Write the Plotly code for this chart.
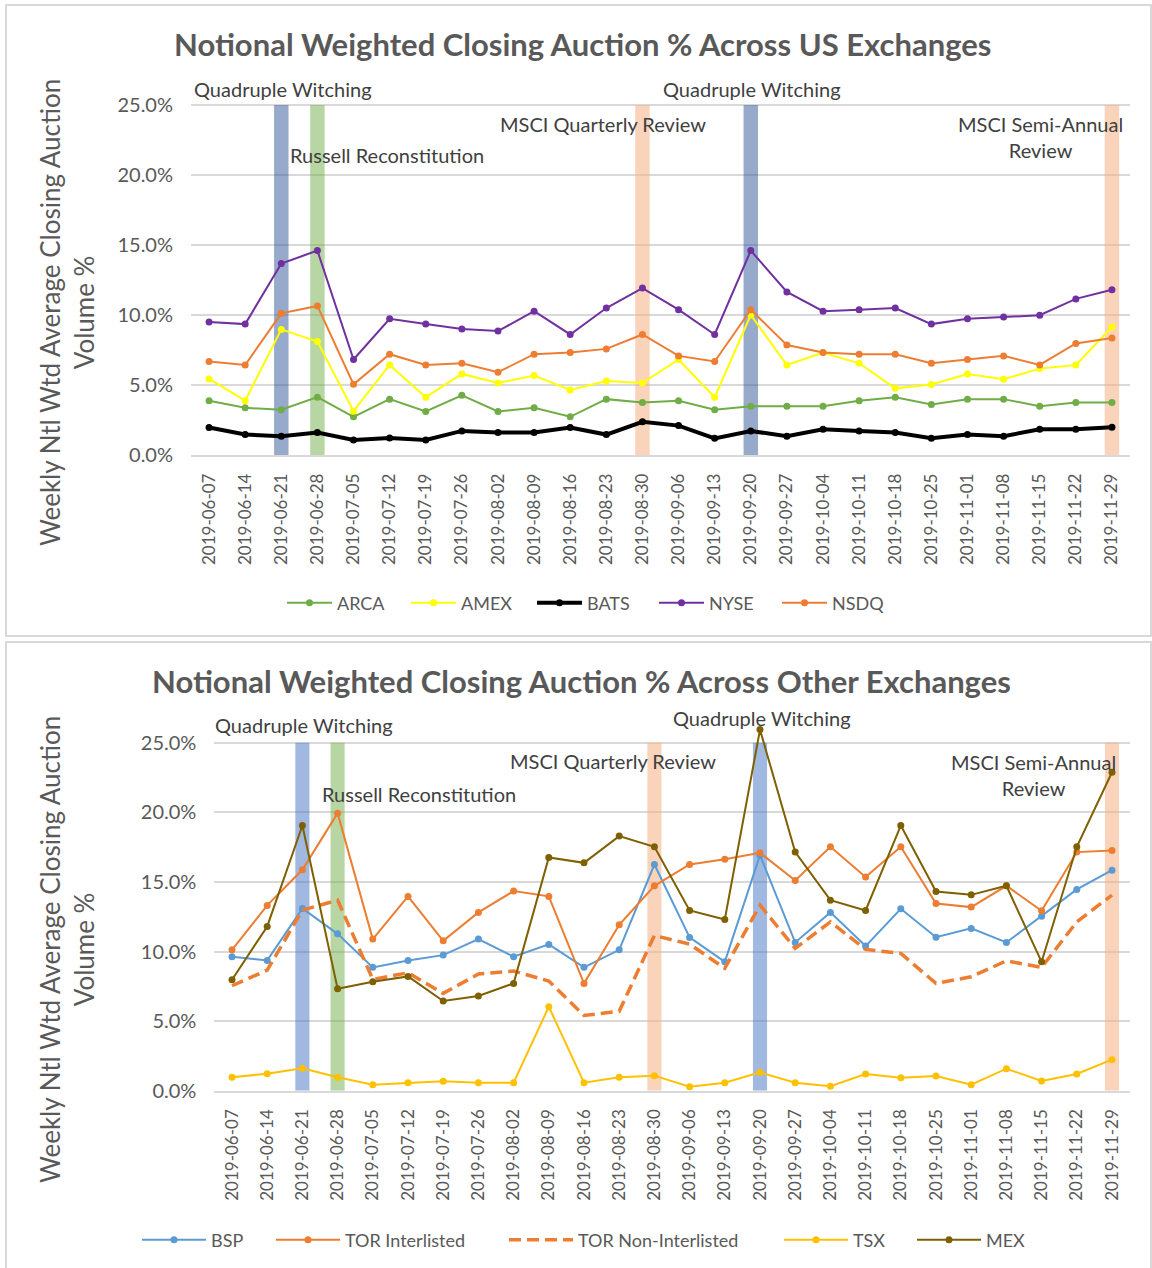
import plotly.graph_objects as go

dates = ["2019-06-07","2019-06-14","2019-06-21","2019-06-28","2019-07-05","2019-07-12","2019-07-19",
         "2019-07-26","2019-08-02","2019-08-09","2019-08-16","2019-08-23","2019-08-30","2019-09-06",
         "2019-09-13","2019-09-20","2019-09-27","2019-10-04","2019-10-11","2019-10-18","2019-10-25",
         "2019-11-01","2019-11-08","2019-11-15","2019-11-22","2019-11-29"]

# Top chart (US exchanges), values in %
arca = [3.88,3.37,3.23,4.13,2.73,3.99,3.11,4.26,3.11,3.37,2.73,3.99,3.75,3.88,3.23,3.49,3.49,3.49,3.88,4.13,3.61,3.99,3.99,3.49,3.75,3.75]
amex = [5.43,3.88,8.97,8.11,3.13,6.43,4.13,5.79,5.14,5.67,4.64,5.28,5.14,6.82,4.13,10.0,6.43,7.32,6.55,4.76,5.03,5.79,5.41,6.17,6.43,9.14]
bats = [1.96,1.46,1.34,1.60,1.08,1.22,1.08,1.72,1.60,1.60,1.96,1.46,2.37,2.10,1.19,1.72,1.34,1.84,1.72,1.60,1.19,1.46,1.34,1.84,1.84,1.98]
nyse = [9.50,9.35,13.68,14.60,6.82,9.73,9.35,9.00,8.85,10.27,8.61,10.50,11.92,10.38,8.61,14.60,11.65,10.27,10.38,10.50,9.35,9.73,9.86,9.98,11.15,11.80]
nsdq = [6.68,6.43,10.12,10.65,5.05,7.20,6.43,6.55,5.91,7.20,7.32,7.58,8.61,7.08,6.68,10.38,7.85,7.32,7.20,7.20,6.55,6.82,7.08,6.43,7.97,8.35]

# Bottom chart (other exchanges), values in %
bsp = [9.62,9.36,13.09,11.27,8.86,9.36,9.74,10.89,9.62,10.51,8.86,10.12,16.25,11.01,9.26,16.92,10.65,12.81,10.39,13.07,11.03,11.66,10.65,12.54,14.46,15.84]
tor_inter = [10.12,13.31,15.87,19.94,10.89,13.96,10.77,12.81,14.34,13.96,7.71,11.92,14.72,16.25,16.63,17.09,15.10,17.52,15.36,17.52,13.45,13.19,14.72,12.92,17.14,17.26]
tor_non = [7.54,8.66,12.97,13.69,8.00,8.47,6.99,8.38,8.59,7.88,5.41,5.70,11.15,10.53,8.79,13.33,10.22,12.13,10.15,9.86,7.71,8.18,9.33,8.86,12.13,14.05]
tsx = [0.96,1.22,1.61,0.96,0.43,0.57,0.67,0.57,0.57,6.03,0.57,0.96,1.08,0.29,0.57,1.32,0.57,0.32,1.20,0.93,1.06,0.43,1.58,0.70,1.20,2.23]
mex = [7.97,11.80,19.05,7.32,7.82,8.21,6.44,6.80,7.71,16.76,16.37,18.29,17.52,12.95,12.30,25.94,17.14,13.69,12.95,19.05,14.31,14.07,14.72,9.26,17.52,22.88]

# Event bands
band_dates = ["2019-06-21","2019-06-28","2019-08-30","2019-09-20","2019-11-29"]
band_height = [25, 25, 25, 25, 25]

ytick_vals = [0, 5, 10, 15, 20, 25]
ytick_text = [f"{v:.1f}%" for v in ytick_vals]

W, H = 1152, 1268
GRAY = "#595959"
FONT = "Lato"

def px(x):
    return x / W

def py(y):
    return 1 - y / H

fig = go.Figure()

top_band_colors = ["rgba(47,85,151,0.5)", "rgba(112,173,71,0.5)", "rgba(244,177,131,0.55)",
                   "rgba(47,85,151,0.5)", "rgba(244,177,131,0.55)"]
bot_band_colors = ["rgba(68,114,196,0.5)", "rgba(112,173,71,0.5)", "rgba(244,177,131,0.55)",
                   "rgba(68,114,196,0.5)", "rgba(244,177,131,0.55)"]

fig.add_trace(go.Bar(x=band_dates, y=band_height, width=0.4, marker=dict(color=top_band_colors, line_width=0),
                     showlegend=False, hoverinfo="skip", xaxis="x", yaxis="y"))
fig.add_trace(go.Bar(x=band_dates, y=band_height, width=0.4, marker=dict(color=bot_band_colors, line_width=0),
                     showlegend=False, hoverinfo="skip", xaxis="x2", yaxis="y2"))

legend_layouts = {}
leg_font = dict(size=18, color=GRAY, family=FONT)

def line(name, y, color, legend, leg_x, leg_y, itemwidth, width=2, ax=("x", "y"), dash=None, markers=True, msize=7):
    fig.add_trace(go.Scatter(
        x=dates, y=y, name=name, xaxis=ax[0], yaxis=ax[1], legend=legend,
        mode="lines+markers" if markers else "lines",
        line=dict(color=color, width=width, dash=dash),
        marker=dict(size=msize, color=color),
    ))
    legend_layouts[legend] = dict(orientation="h", x=px(leg_x), xanchor="left", y=py(leg_y), yanchor="middle",
                                  font=leg_font, itemwidth=itemwidth, bgcolor="rgba(0,0,0,0)",
                                  borderwidth=0)

LX = -6  # legend box offset relative to line start
line("ARCA", arca, "#70AD47", "legend", 288 + LX, 603, 45)
line("AMEX", amex, "#FFFF00", "legend2", 412 + LX, 603, 45)
line("BATS", bats, "#000000", "legend3", 538 + LX, 603, 45, width=4)
line("NYSE", nyse, "#7030A0", "legend4", 660 + LX, 603, 45)
line("NSDQ", nsdq, "#ED7D31", "legend5", 783 + LX, 603, 45)

ax2 = ("x2", "y2")
line("BSP", bsp, "#5B9BD5", "legend6", 143 + LX, 1240, 64, ax=ax2)
line("TOR Interlisted", tor_inter, "#ED7D31", "legend7", 277 + LX, 1240, 64, ax=ax2)
line("TOR Non-Interlisted", tor_non, "#ED7D31", "legend8", 510 + LX, 1240, 64, width=3.5, ax=ax2,
     dash="12px,6px", markers=False)
line("TSX", tsx, "#FFC000", "legend9", 785 + LX, 1240, 64, ax=ax2)
line("MEX", mex, "#7F6000", "legend10", 918 + LX, 1240, 64, ax=ax2)

# axes geometry (pixels)
top_left, top_right, top_zero, pxper_top = 191, 1130, 455, 14.0
bot_left, bot_right, bot_zero, pxper_bot = 214.4, 1129.6, 1090.7, 13.92
top_max, bot_max = 25.3, 26.5

xcommon = dict(type="category", categoryorder="array", categoryarray=dates, range=[-0.5, len(dates) - 0.5],
               tickangle=-90, tickfont=dict(size=17, color=GRAY, family=FONT),
               showgrid=False, showline=True, linecolor="#D9D9D9", linewidth=1.5, ticks="",
               ticklabelstandoff=10, fixedrange=True, automargin=False)
ycommon = dict(tickvals=ytick_vals, ticktext=ytick_text,
               tickfont=dict(size=20, color=GRAY, family=FONT), showgrid=True, gridcolor="#D9D9D9",
               gridwidth=1.5, zeroline=False, showline=False, ticks="", ticklabelstandoff=17, fixedrange=True,
               automargin=False)

fig.update_layout(
    width=W, height=H, margin=dict(l=0, r=0, t=0, b=0, autoexpand=False),
    paper_bgcolor="white", plot_bgcolor="white",
    font=dict(family=FONT, color=GRAY),
    barmode="overlay",
    xaxis=dict(domain=[px(top_left), px(top_right)], anchor="y", **xcommon),
    yaxis=dict(domain=[py(top_zero), py(top_zero - top_max * pxper_top)], range=[0, top_max], anchor="x", **ycommon),
    xaxis2=dict(domain=[px(bot_left), px(bot_right)], anchor="y2", **xcommon),
    yaxis2=dict(domain=[py(bot_zero), py(bot_zero - bot_max * pxper_bot)], range=[0, bot_max], anchor="x2", **ycommon),
    hovermode=False,
    **legend_layouts,
)

# panel borders
fig.add_shape(type="rect", xref="paper", yref="paper", x0=px(6), x1=px(1151), y0=py(636), y1=py(5),
              line=dict(color="#D9D9D9", width=2), layer="below")
fig.add_shape(type="rect", xref="paper", yref="paper", x0=px(6), x1=px(1151), y0=py(1270), y1=py(642),
              line=dict(color="#D9D9D9", width=2), layer="below")

ann_font = dict(size=20, color="#404040", family=FONT)
title_font = dict(size=31, color=GRAY, family=FONT)

# titles
fig.add_annotation(text="<b>Notional Weighted Closing Auction % Across US Exchanges</b>", xref="paper", yref="paper",
                   x=px(582), y=py(44), xanchor="center", yanchor="middle", showarrow=False, font=title_font)
fig.add_annotation(text="<b>Notional Weighted Closing Auction % Across Other Exchanges</b>", xref="paper", yref="paper",
                   x=px(581), y=py(681), xanchor="center", yanchor="middle", showarrow=False, font=title_font)

# y axis titles
ytitle = "Weekly Ntl Wtd Average Closing Auction<br>Volume %"
for yc in (313, 950):
    fig.add_annotation(text=ytitle, xref="paper", yref="paper", x=px(67), y=py(yc), textangle=-90,
                       xanchor="center", yanchor="middle", showarrow=False,
                       font=dict(size=26, color=GRAY, family=FONT))

# event annotations: x in category units, y in pixels from top
top_ann = [("Quadruple Witching", 2.05, 89), ("Russell Reconstitution", 4.93, 155),
           ("MSCI Quarterly Review", 10.9, 124), ("Quadruple Witching", 15.03, 89),
           ("MSCI Semi-Annual<br>Review", 23.03, 137)]
bot_ann = [("Quadruple Witching", 2.05, 725), ("Russell Reconstitution", 5.31, 794),
           ("MSCI Quarterly Review", 10.82, 761), ("Quadruple Witching", 15.06, 718),
           ("MSCI Semi-Annual<br>Review", 22.76, 775)]
for t, x, y in top_ann:
    fig.add_annotation(text=t, x=x, y=py(y), xref="x", yref="paper", showarrow=False, font=ann_font,
                       xanchor="center", yanchor="middle")
for t, x, y in bot_ann:
    fig.add_annotation(text=t, x=x, y=py(y), xref="x2", yref="paper", showarrow=False, font=ann_font,
                       xanchor="center", yanchor="middle")

fig.write_html("out.html", config={"displayModeBar": False},
               post_script="document.body.style.margin='0';document.body.style.overflow='hidden';"
                           "document.documentElement.style.overflow='hidden';"
                           "var d=document.getElementById('{plot_id}');d.style.position='fixed';"
                           "d.style.left='0px';d.style.top='0px';")
